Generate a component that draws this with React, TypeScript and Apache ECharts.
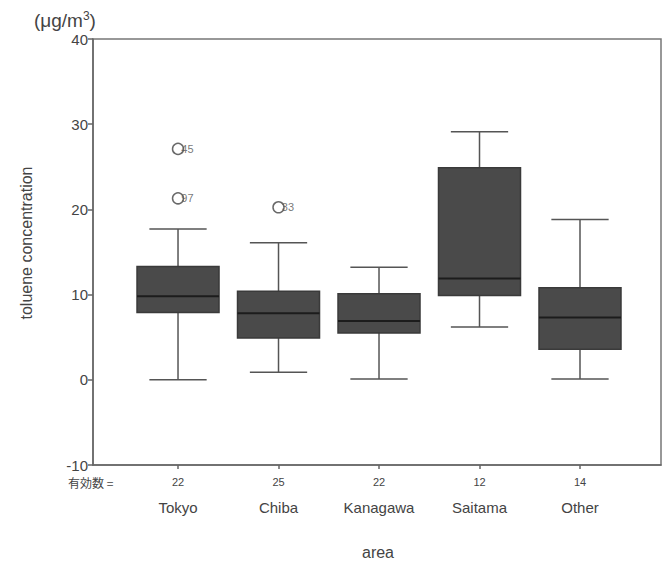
import React, { useEffect, useRef } from "react";
import * as echarts from "echarts";

const areas = ["Tokyo", "Chiba", "Kanagawa", "Saitama", "Other"];
const counts = [22, 25, 22, 12, 14];
// [min, q1, median, q3, max]
const tokyoBox = [0, 7.9, 9.8, 13.3, 17.7];
const chibaBox = [0.9, 4.9, 7.8, 10.4, 16.1];
const kanagawaBox = [0.1, 5.5, 6.9, 10.1, 13.2];
const saitamaBox = [6.2, 9.9, 11.9, 24.9, 29.1];
const otherBox = [0.1, 3.6, 7.3, 10.8, 18.8];
const boxes = [tokyoBox, chibaBox, kanagawaBox, saitamaBox, otherBox];

const outlierArea = [0, 0, 1];
const outlierValue = [27.1, 21.3, 20.25];
const outlierId = ["45", "97", "33"];

const FONT = "'Liberation Sans', Arial, sans-serif";

export default function App() {
  const ref = useRef<HTMLDivElement>(null);
  useEffect(() => {
    if (!ref.current) return;
    const chart = echarts.init(ref.current, null, { renderer: "svg" });
    const BOX_W = 0.816;
    const CAP_W = 0.57;
    const option: any = {
      animation: false,
      backgroundColor: "#fff",
      textStyle: { fontFamily: FONT },
      grid: {
        left: 93,
        right: 4,
        top: 39,
        bottom: 106,
        show: true,
        borderColor: "#777",
        borderWidth: 1.5,
        containLabel: false,
      },
      xAxis: {
        type: "value",
        min: -0.846,
        max: 4.806,
        splitLine: { show: false },
        axisLine: { show: true, onZero: false, lineStyle: { color: "#666", width: 1.5 } },
        axisTick: {
          show: true,
          length: 4,
          customValues: [0, 1, 2, 3, 4],
          lineStyle: { color: "#666", width: 1.5 },
        },
        axisLabel: {
          show: true,
          margin: 8,
          customValues: [0, 1, 2, 3, 4],
          formatter: (v: number) => {
            const i = Math.round(v);
            return `{n|${counts[i]}}\n{c|${areas[i]}}`;
          },
          rich: {
            n: { fontSize: 11, lineHeight: 18, color: "#444", fontFamily: FONT },
            c: { fontSize: 15, lineHeight: 32, color: "#444", fontFamily: FONT },
          },
        },
      },
      yAxis: {
        type: "value",
        min: -10,
        max: 40,
        interval: 10,
        splitLine: { show: false },
        axisLine: { show: true, onZero: false, lineStyle: { color: "#666", width: 1.5 } },
        axisTick: { show: true, length: 5, lineStyle: { color: "#666", width: 1.5 } },
        axisLabel: { fontSize: 15, color: "#444", margin: 5, fontFamily: FONT },
      },
      graphic: [
        {
          type: "text",
          left: 34,
          top: 10,
          style: {
            text: "{a|(μg/m}{s|3}{a|)}",
            rich: {
              a: { fontSize: 19, fill: "#444", fontFamily: FONT },
              s: { fontSize: 12, fill: "#444", fontFamily: FONT, verticalAlign: "top", padding: [0, 0, 9, 0] },
            },
          },
        },
        {
          type: "text",
          x: 26,
          y: 243,
          rotation: Math.PI / 2,
          style: {
            text: "toluene concentration",
            fontSize: 16,
            fill: "#444",
            fontFamily: FONT,
            align: "center",
            verticalAlign: "middle",
          },
        },
        {
          type: "text",
          x: 68,
          y: 482,
          style: {
            text: "有効数 =",
            fontSize: 12,
            fill: "#444",
            fontFamily: "'Noto Sans CJK JP', sans-serif",
            align: "left",
            verticalAlign: "middle",
          },
        },
        {
          type: "text",
          x: 378,
          y: 552,
          style: {
            text: "area",
            fontSize: 16,
            fill: "#444",
            fontFamily: FONT,
            align: "center",
            verticalAlign: "middle",
          },
        },
      ],
      series: [
        {
          type: "custom",
          data: boxes.map((b, i) => [i, ...b]),
          encode: { x: 0, y: [1, 2, 3, 4, 5] },
          renderItem: (params: any, api: any) => {
            const i = api.value(0);
            const pMin = api.coord([i, api.value(1)]);
            const pQ1 = api.coord([i, api.value(2)]);
            const pMed = api.coord([i, api.value(3)]);
            const pQ3 = api.coord([i, api.value(4)]);
            const pMax = api.coord([i, api.value(5)]);
            const bw = api.size([BOX_W, 0])[0];
            const cw = api.size([CAP_W, 0])[0];
            const xc = pMin[0];
            const wStyle = { stroke: "#555", lineWidth: 1.5 };
            return {
              type: "group",
              children: [
                { type: "line", shape: { x1: xc, y1: pQ1[1], x2: xc, y2: pMin[1] }, style: wStyle },
                { type: "line", shape: { x1: xc, y1: pQ3[1], x2: xc, y2: pMax[1] }, style: wStyle },
                { type: "line", shape: { x1: xc - cw / 2, y1: pMin[1], x2: xc + cw / 2, y2: pMin[1] }, style: wStyle },
                { type: "line", shape: { x1: xc - cw / 2, y1: pMax[1], x2: xc + cw / 2, y2: pMax[1] }, style: wStyle },
                {
                  type: "rect",
                  shape: { x: xc - bw / 2, y: pQ3[1], width: bw, height: pQ1[1] - pQ3[1] },
                  style: { fill: "#4a4a4a", stroke: "#3a3a3a", lineWidth: 1.5 },
                },
                {
                  type: "line",
                  shape: { x1: xc - bw / 2, y1: pMed[1], x2: xc + bw / 2, y2: pMed[1] },
                  style: { stroke: "#1c1c1c", lineWidth: 2 },
                },
              ],
            };
          },
        },
        {
          type: "scatter",
          z: 5,
          data: outlierArea.map((a, k) => [a, outlierValue[k], outlierId[k]]),
          symbol: "circle",
          symbolSize: 11,
          itemStyle: { color: "#fff", borderColor: "#444", borderWidth: 1.5 },
          label: {
            show: true,
            position: "right",
            distance: 0,
            offset: [-3, 0],
            formatter: (p: any) => p.data[2],
            fontSize: 11,
            color: "#555",
            fontFamily: FONT,
          },
        },
      ],
    };
    chart.setOption(option);
    return () => chart.dispose();
  }, []);
  return (
    <div
      ref={ref}
      style={{ position: "fixed", left: 0, top: 0, width: 665, height: 571, background: "#fff" }}
    />
  );
}
